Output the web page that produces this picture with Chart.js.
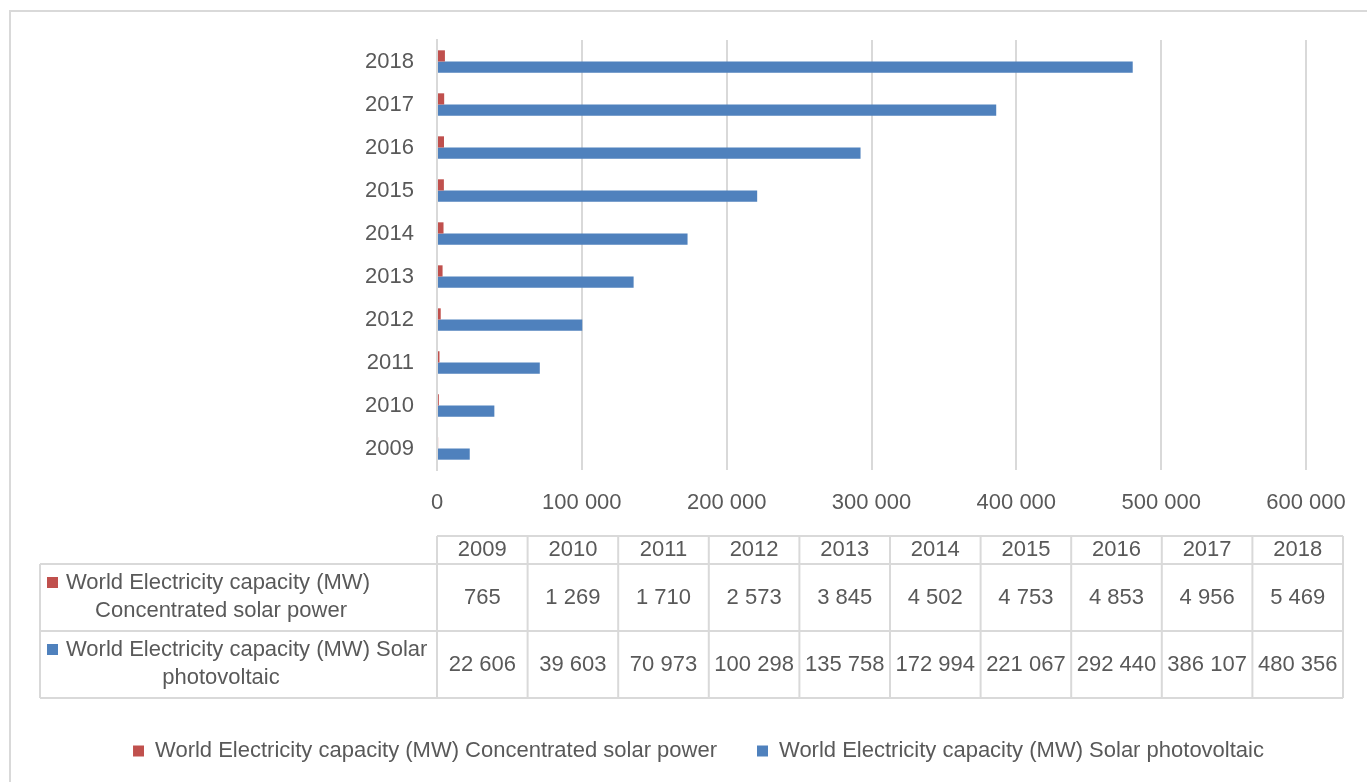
<!DOCTYPE html>
<html>
<head>
<meta charset="utf-8">
<script src="https://cdn.jsdelivr.net/npm/chart.js@4/dist/chart.umd.min.js"></script>
<style>
  html, body { margin: 0; padding: 0; background: #fff; overflow: hidden; }
  #wrap { width: 1367px; height: 782px; position: relative; }
</style>
</head>
<body>
<div id="wrap"><canvas id="capacityChart"></canvas></div>
<script>
// World solar electricity capacity, MW
const years = ['2009', '2010', '2011', '2012', '2013', '2014', '2015', '2016', '2017', '2018'];
const cspValues = [765, 1269, 1710, 2573, 3845, 4502, 4753, 4853, 4956, 5469];
const pvValues = [22606, 39603, 70973, 100298, 135758, 172994, 221067, 292440, 386107, 480356];
const seriesNames = [
  'World Electricity capacity (MW) Concentrated solar power',
  'World Electricity capacity (MW) Solar photovoltaic'
];
// wrapped row headers for the data table
const rowHeaders = [
  ['World Electricity capacity (MW)', 'Concentrated solar power'],
  ['World Electricity capacity (MW) Solar', 'photovoltaic']
];

const RED = '#C0504D';
const BLUE = '#4F81BD';
const TEXT = '#595959';
const LINE = '#d9d9d9';
const FONT = '"Liberation Sans", Arial, sans-serif';

// thousands separated by a space: 100 000
function fmt(v) {
  return String(v).replace(/\B(?=(\d{3})+(?!\d))/g, ' ');
}

// outer frame + data table under the x axis
const tablePlugin = {
  id: 'dataTable',
  beforeDraw(chart) {
    const ctx = chart.ctx;
    ctx.save();
    ctx.strokeStyle = LINE;
    ctx.lineWidth = 2;
    ctx.strokeRect(10, 11, 1400, 800);
    ctx.restore();
  },
  afterDraw(chart) {
    const ctx = chart.ctx;
    const area = chart.chartArea;
    const left = 40;
    const colX = area.left;
    const right = 1343;
    const colW = (right - colX) / years.length;
    const headTop = area.bottom + 66;
    const rowTop = headTop + 28;
    const rowH = 67;
    const bottom = rowTop + rowH * 2;

    ctx.save();
    ctx.strokeStyle = LINE;
    ctx.lineWidth = 2;
    ctx.beginPath();
    ctx.moveTo(colX, headTop); ctx.lineTo(right, headTop);
    [rowTop, rowTop + rowH, bottom].forEach(y => { ctx.moveTo(left, y); ctx.lineTo(right, y); });
    ctx.moveTo(left, rowTop); ctx.lineTo(left, bottom);
    for (let i = 0; i <= years.length; i++) {
      const x = colX + i * colW;
      ctx.moveTo(x, headTop); ctx.lineTo(x, bottom);
    }
    ctx.stroke();

    ctx.fillStyle = TEXT;
    ctx.font = '22px ' + FONT;
    ctx.textAlign = 'center';
    ctx.textBaseline = 'middle';
    years.forEach((y, i) => ctx.fillText(y, colX + (i + 0.5) * colW, headTop + 14));
    [cspValues, pvValues].forEach((vals, r) => {
      const cy = rowTop + r * rowH + rowH / 2;
      vals.forEach((v, i) => ctx.fillText(fmt(v), colX + (i + 0.5) * colW, cy));
    });

    [RED, BLUE].forEach((c, r) => {
      const y1 = rowTop + r * rowH + 19;
      const y2 = y1 + 28;
      ctx.fillStyle = c;
      ctx.fillRect(47, y1 - 6, 11, 11);
      ctx.fillStyle = TEXT;
      ctx.textAlign = 'left';
      ctx.fillText(rowHeaders[r][0], 66, y1);
      ctx.textAlign = 'center';
      ctx.fillText(rowHeaders[r][1], 221, y2);
    });
    ctx.restore();
  }
};

Chart.defaults.font.family = FONT;
Chart.defaults.font.size = 22;
Chart.defaults.color = TEXT;

new Chart(document.getElementById('capacityChart'), {
  type: 'bar',
  data: {
    labels: years,
    datasets: [
      { label: seriesNames[0], data: cspValues, backgroundColor: RED },
      { label: seriesNames[1], data: pvValues, backgroundColor: BLUE }
    ]
  },
  options: {
    indexAxis: 'y',
    responsive: true,
    maintainAspectRatio: false,
    animation: false,
    categoryPercentage: 0.52,
    barPercentage: 1,
    layout: { padding: { left: 91, right: 61, top: 40, bottom: 10 } },
    plugins: {
      tooltip: { enabled: false },
      legend: {
        position: 'bottom',
        labels: { boxWidth: 11, boxHeight: 11, padding: 40, font: { size: 22 } }
      }
    },
    scales: {
      x: {
        min: 0,
        max: 600000,
        ticks: { stepSize: 100000, padding: 20, callback: v => fmt(v) },
        grid: { color: LINE, lineWidth: 2, drawTicks: false },
        border: { display: false },
        afterFit(scale) { scale.height = 230; }
      },
      y: {
        reverse: true,
        ticks: { padding: 23 },
        grid: { display: false, drawTicks: false },
        border: { color: LINE, width: 2 },
        afterFit(scale) { scale.width = 346; }
      }
    }
  },
  plugins: [tablePlugin]
});
</script>
</body>
</html>
